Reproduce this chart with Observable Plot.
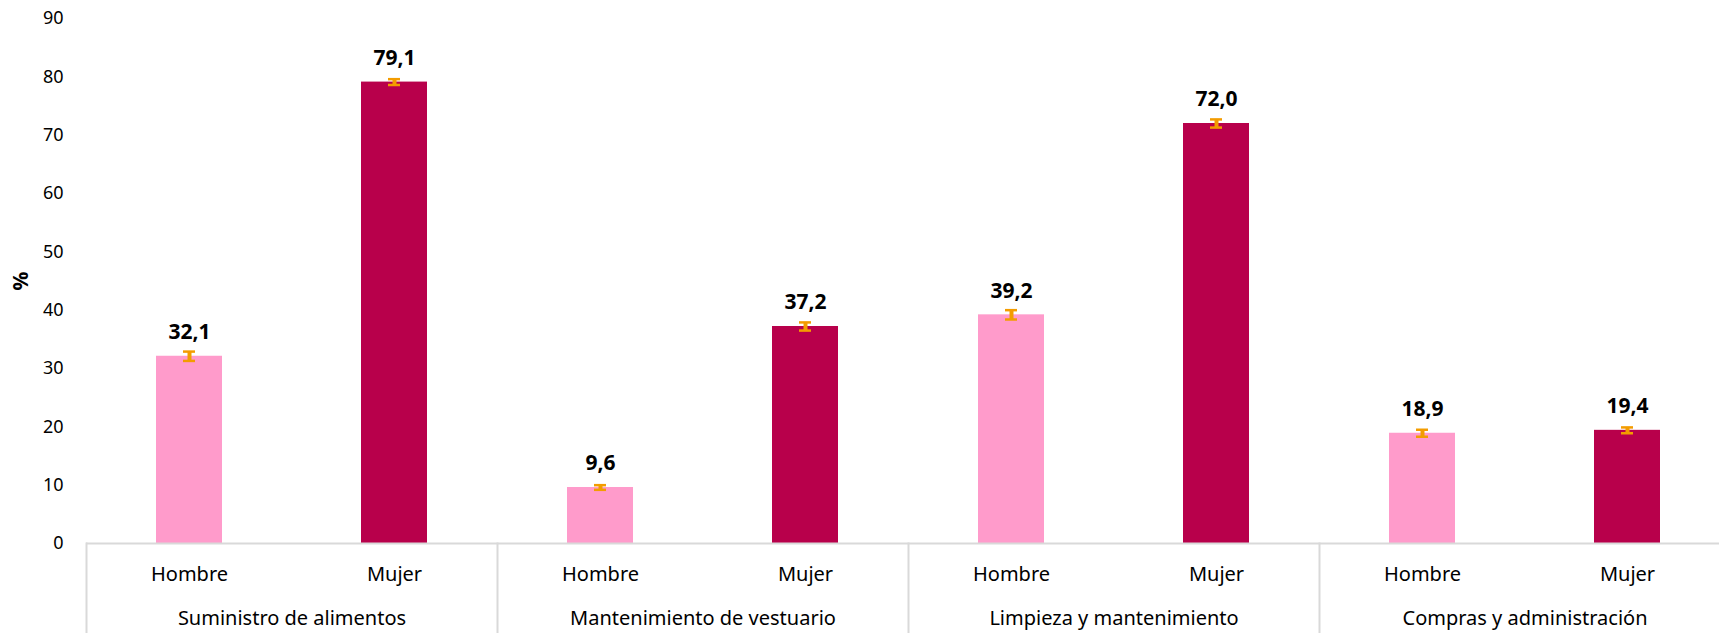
<!DOCTYPE html>
<html>
<head>
<meta charset="utf-8">
<script src="https://cdn.jsdelivr.net/npm/d3@7"></script>
<script src="https://cdn.jsdelivr.net/npm/@observablehq/plot@0.6"></script>
<style>
  html, body { margin: 0; padding: 0; background: #fff; overflow: hidden; }
  #chart svg { font-family: "Noto Sans", "Open Sans", sans-serif; }
  g[aria-label="y-axis label"] text { font-weight: bold; font-size: 21px; }
</style>
</head>
<body>
<div id="chart"></div>
<script>
const categorias = ["Suministro de alimentos", "Mantenimiento de vestuario", "Limpieza y mantenimiento", "Compras y administración"];
const sexos = ["Hombre", "Mujer"];
const valoresHombre = [32.1, 9.6, 39.2, 18.9];
const valoresMujer = [79.1, 37.2, 72.0, 19.4];
const errorHombre = [0.8, 0.4, 0.8, 0.6];
const errorMujer = [0.5, 0.7, 0.7, 0.5];
const yTicks = [0, 10, 20, 30, 40, 50, 60, 70, 80, 90];
const colores = ["#ff9bcb", "#b8004b"];

const datos = [];
categorias.forEach((c, i) => {
  datos.push({categoria: c, sexo: sexos[0], valor: valoresHombre[i], err: errorHombre[i]});
  datos.push({categoria: c, sexo: sexos[1], valor: valoresMujer[i], err: errorMujer[i]});
});
const fmt = v => d3.format(".1f")(v).replace(".", ",");

const chart = Plot.plot({
  width: 1719,
  height: 633,
  marginLeft: 85,
  marginRight: -12,
  marginTop: 18,
  marginBottom: 90,
  style: {fontSize: "18px", color: "#000", overflow: "hidden"},
  fx: {domain: categorias, padding: 0, axis: null},
  x: {domain: sexos, paddingInner: 0.68, paddingOuter: 0.34, axis: null},
  y: {domain: [0, 90], axis: null},
  color: {domain: sexos, range: colores},
  marks: [
    Plot.barY(datos, {fx: "categoria", x: "sexo", y: "valor", fill: "sexo"}),
    Plot.ruleY([0], {stroke: "#d9d9d9", strokeWidth: 2}),
    Plot.frame({anchor: "left", stroke: "#d9d9d9", strokeWidth: 2, insetTop: 525, insetBottom: -90}),
    Plot.ruleX(datos, {fx: "categoria", x: "sexo", y1: d => d.valor - d.err, y2: d => d.valor + d.err, stroke: "#f39c00", strokeWidth: 4}),
    Plot.tickY(datos, {fx: "categoria", x: "sexo", y: d => d.valor - d.err, stroke: "#f39c00", strokeWidth: 2.5, insetLeft: 27, insetRight: 27}),
    Plot.tickY(datos, {fx: "categoria", x: "sexo", y: d => d.valor + d.err, stroke: "#f39c00", strokeWidth: 2.5, insetLeft: 27, insetRight: 27}),
    Plot.text(datos, {fx: "categoria", x: "sexo", y: "valor", text: d => fmt(d.valor), dy: -24, fontWeight: "bold", fontSize: 21, fill: "#000"}),
    Plot.axisY({ticks: yTicks, tickSize: 0, tickPadding: 23, label: "%", labelAnchor: "center", labelArrow: "none", labelOffset: 73, fontSize: 18}),
    Plot.axisX({anchor: "bottom", tickSize: 0, tickPadding: 23, label: null, fontSize: 20}),
    Plot.axisFx({anchor: "bottom", tickSize: 0, tickPadding: 67, label: null, fontSize: 20})
  ]
});
document.getElementById("chart").appendChild(chart);
</script>
</body>
</html>
